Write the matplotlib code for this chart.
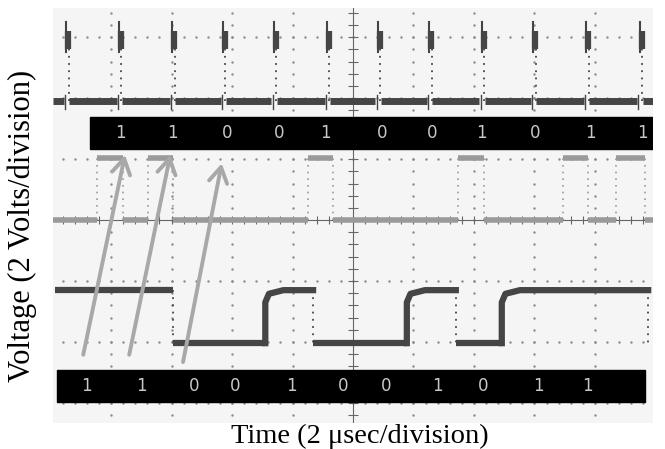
import numpy as np
import matplotlib.pyplot as plt
from matplotlib.patches import Rectangle

# all positions in scope divisions, (0, 0) = screen centre
clock_x = [-4.74, -3.87, -2.99, -2.15, -1.31, -0.43, 0.41, 1.26, 2.13, 2.98, 3.86, 4.74]
clock_low, clock_high = 1.95, 3.0

pulse_start = [-4.23, -3.39, -0.74, 1.74, 3.47, 4.35]
pulse_end = [-3.80, -2.98, -0.33, 2.17, 3.88, 4.83]
pulse_low, pulse_high = 0.0, 1.02

data_edges = [-2.98, -1.45, -0.66, 0.89, 1.70, 2.46]
data_start, data_stop = -4.93, 4.88
data_high, data_low = -1.15, -2.02

top_bits = ["1", "1", "0", "0", "1", "0", "0", "1", "0", "1", "1"]
top_bit_x = [-3.85, -2.99, -2.08, -1.22, -0.46, 0.48, 1.31, 2.13, 3.01, 3.92, 4.78]
bottom_bits = ["1", "1", "0", "0", "1", "0", "0", "1", "0", "1", "1"]
bottom_bit_x = [-4.40, -3.50, -2.63, -1.95, -1.02, -0.17, 0.55, 1.39, 2.15, 3.06, 3.88]

arrow_tail = [(-4.46, -2.21), (-3.70, -2.21), (-2.81, -2.33)]
arrow_head = [(-3.77, 1.07), (-3.02, 1.07), (-2.17, 0.93)]

xmin, xmax = -4.96, 4.96
ymin, ymax = -3.33, 3.48

dark = "#454545"
light = "#9a9a9a"
dotc = "#8a8a8a"

fig = plt.figure(figsize=(6.65, 4.49), dpi=100)
ax = fig.add_axes([53 / 665, 26 / 449, 600 / 665, 415 / 449])
ax.set_xlim(xmin, xmax)
ax.set_ylim(ymin, ymax)
ax.set_facecolor("#f5f5f5")
for s in ax.spines.values():
    s.set_visible(False)
ax.set_xticks([])
ax.set_yticks([])

# graticule
steps_y = np.arange(-16, 18) * 0.2
steps_x = np.arange(-24, 25) * 0.2
for gx in [-4, -3, -2, -1, 1, 2, 3, 4]:
    ax.scatter(np.full(len(steps_y), gx), steps_y, s=3, color=dotc, lw=0, zorder=1)
for gy in [-3, -2, -1, 1, 2, 3]:
    ax.scatter(steps_x, np.full(len(steps_x), gy), s=3, color=dotc, lw=0, zorder=1)
ax.axhline(0, color="#666666", lw=0.8, zorder=1)
ax.axvline(0, color="#666666", lw=0.8, zorder=1)
ax.vlines(steps_x, -0.06, 0.06, color="#666666", lw=0.8, zorder=1)
ax.hlines(steps_y, -0.08, 0.08, color="#666666", lw=0.8, zorder=1)

# clock trace
bounds = [xmin] + clock_x + [xmax]
for a, b in zip(bounds[:-1], bounds[1:]):
    a0 = a + 0.05 if a != xmin else a
    b0 = b - 0.04 if b != xmax else b
    ax.plot([a0, b0], [clock_low, clock_low], color=dark, lw=5, solid_capstyle="butt", zorder=3)
for cx in clock_x:
    ax.plot([cx + 0.04, cx + 0.04], [clock_low, clock_high - 0.2], color=dark, lw=1.3,
            ls=(0, (1, 3)), zorder=3)
    ax.plot([cx, cx], [clock_high - 0.25, clock_high + 0.25], color=dark, lw=1.5, zorder=3)
    ax.plot([cx + 0.03, cx + 0.03], [clock_high - 0.2, clock_high + 0.1], color=dark, lw=4.5,
            solid_capstyle="butt", zorder=3)
    ax.plot([cx - 0.02, cx - 0.02], [clock_low - 0.12, clock_low + 0.1], color=dark, lw=1, zorder=3)

# gated pulse trace
lows = [xmin] + pulse_end
highs = pulse_start + [xmax]
for a, b in zip(lows, highs):
    ax.plot([a, b], [pulse_low, pulse_low], color=light, lw=4, solid_capstyle="butt", zorder=3)
for a, b in zip(pulse_start, pulse_end):
    ax.plot([a, b], [pulse_high, pulse_high], color=light, lw=4, solid_capstyle="butt", zorder=3)
    for e in (a, b):
        ax.plot([e, e], [pulse_low, pulse_high], color=light, lw=1.2, ls=(0, (1, 3)), zorder=3)

# data trace
xs = [data_start] + data_edges + [data_stop]
level = data_high
for i in range(len(xs) - 1):
    a, b = xs[i], xs[i + 1]
    if level == data_high and i > 0:
        ax.plot([a, a, a + 0.06, a + 0.3, b], [data_low, level - 0.2, level - 0.06, level, level],
                color=dark, lw=4.5, zorder=3)
    else:
        ax.plot([a, b], [level, level], color=dark, lw=4.5, solid_capstyle="butt", zorder=3)
    if level == data_high:
        ax.plot([b, b], [data_high, data_low], color=dark, lw=1.3, ls=(0, (1, 3)), zorder=3)
    level = data_low if level == data_high else data_high

# bit bars
ax.add_patch(Rectangle((-4.35, 1.16), xmax - -4.35, 0.53, color="black", zorder=5))
ax.add_patch(Rectangle((-4.89, -2.98), 9.72, 0.52, color="black", zorder=5))
for bx, bt in zip(top_bit_x, top_bits):
    ax.text(bx, 1.43, bt, color="#c8c8c8", fontsize=12, ha="center", va="center", zorder=6)
for bx, bt in zip(bottom_bit_x, bottom_bits):
    ax.text(bx, -2.72, bt, color="#c8c8c8", fontsize=12, ha="center", va="center", zorder=6)

# arrows
for t, h in zip(arrow_tail, arrow_head):
    ax.annotate("", xy=h, xytext=t,
                arrowprops=dict(arrowstyle="->, head_length=0.5, head_width=0.3",
                                color="#a8a8a8", lw=2.8, mutation_scale=22,
                                shrinkA=0, shrinkB=0), zorder=4)

fig.text(0.033, 0.497, "Voltage (2 Volts/division)", rotation=90, ha="center", va="center",
         family="Liberation Serif", fontsize=22)
fig.text(0.541, 0.027, "Time (2 \u03bcsec/division)", ha="center", va="center",
         family="Liberation Serif", fontsize=20.5)

fig.savefig("out.png", dpi=100, facecolor="white")
